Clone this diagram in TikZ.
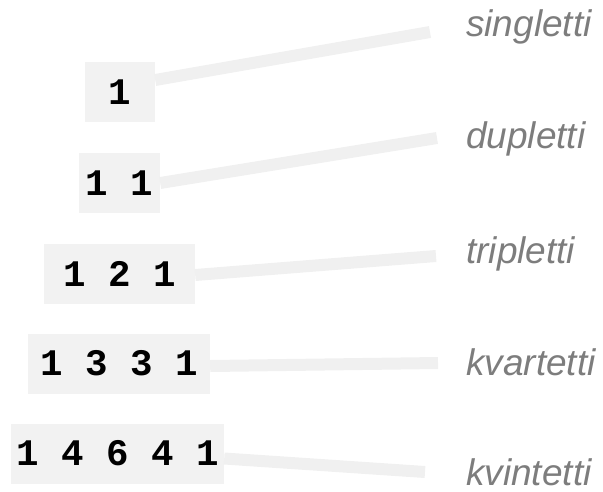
\documentclass[tikz,border=0pt]{standalone}
\usepackage{fontspec}
\setmainfont{Liberation Sans}
\newfontfamily\digitfont{Liberation Mono}
\definecolor{boxgray}{RGB}{242,242,242}
\definecolor{linegray}{RGB}{240,240,240}
\definecolor{tagtext}{RGB}{125,125,125}
\tikzset{
  numbox/.style={fill=boxgray, minimum height=60pt, inner sep=0pt,
    font=\digitfont\bfseries\fontsize{37.5}{40}\selectfont},
  tag/.style={anchor=base west, inner sep=0pt, text=tagtext, text depth=0pt,
    font=\itshape\fontsize{37}{40}\selectfont},
  leader/.style={draw=linegray, line width=12pt}
}
\begin{document}
\begin{tikzpicture}[x=1pt, y=-1pt]
\useasboundingbox (0,0) rectangle (603,491);
% Pascal rows
\node[numbox, minimum width=70pt] (r1) at (120,92) {1};
\node[numbox, minimum width=81pt] (r2) at (119.5,183) {1 1};
\node[numbox, minimum width=151pt] (r3) at (119.5,274) {1 2 1};
\node[numbox, minimum width=182pt] (r4) at (119,363.5) {1 3 3 1};
\node[numbox, minimum width=213pt] (r5) at (117.5,453.5) {1 4 6 4 1};
% multiplet names
\node[tag] (m1) at (466,36) {singletti};
\node[tag] (m2) at (466,148) {dupletti};
\node[tag] (m3) at (466,263) {tripletti};
\node[tag] (m4) at (466,375) {kvartetti};
\node[tag] (m5) at (466,485.5) {kvintetti};
% where the leaders stop
\coordinate (e1) at (430,32);
\coordinate (e2) at (437,138);
\coordinate (e3) at (436,256);
\coordinate (e4) at (438,363);
\coordinate (e5) at (425,472);
\draw[leader] ([yshift=12pt]r1.east) -- (e1);
\draw[leader] (r2.east) -- (e2);
\draw[leader] ([yshift=-1pt]r3.east) -- (e3);
\draw[leader] ([yshift=-2.5pt]r4.east) -- (e4);
\draw[leader] ([yshift=-5pt]r5.east) -- (e5);
\end{tikzpicture}
\end{document}
